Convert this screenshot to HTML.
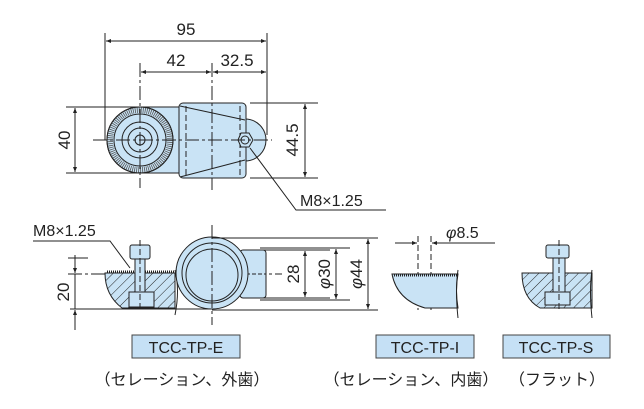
<!DOCTYPE html>
<html><head><meta charset="utf-8"><style>
html,body{margin:0;padding:0;background:#fff;}
svg{display:block;font-family:"Liberation Sans","Noto Sans CJK JP",sans-serif;}
</style></head><body>
<svg width="644" height="409" viewBox="0 0 644 409" xmlns="http://www.w3.org/2000/svg">
<defs>
<pattern id="h" width="7" height="7" patternUnits="userSpaceOnUse" patternTransform="rotate(45)">
<rect width="7" height="7" fill="#c9e3f5"/><line x1="0" y1="0" x2="0" y2="7" stroke="#222" stroke-width="1"/></pattern>
<marker id="a" viewBox="0 0 10 10" refX="10" refY="5" markerWidth="8" markerHeight="5" orient="auto-start-reverse"><path d="M0,1 L10,5 L0,9z" fill="#222"/></marker>
</defs>
<g stroke="#222" fill="none" stroke-width="1">
<line x1="105" y1="33" x2="105" y2="140"/><line x1="267" y1="33" x2="267" y2="135"/>
<line x1="106" y1="41" x2="266" y2="41" marker-start="url(#a)" marker-end="url(#a)"/>
<line x1="141" y1="72" x2="211" y2="72" marker-start="url(#a)" marker-end="url(#a)"/>
<line x1="213" y1="72" x2="266" y2="72" marker-start="url(#a)" marker-end="url(#a)"/>
<path d="M140,107 L182,107 L182,173 L140,173 Z" fill="#c9e3f5" stroke="none"/>
<line x1="140" y1="107" x2="182" y2="107"/><line x1="140" y1="173" x2="182" y2="173"/>
<circle cx="140" cy="140" r="33" fill="#c9e3f5"/>
<circle cx="140" cy="140" r="30" stroke="#555" stroke-width="6" stroke-dasharray="0.8 1.2"/>
<circle cx="140" cy="140" r="33"/>
<circle cx="140" cy="140" r="26"/>
<circle cx="140" cy="140" r="18"/>
<circle cx="140" cy="140" r="12"/>
<circle cx="140" cy="140" r="5"/>
<circle cx="245" cy="140" r="21" fill="#c9e3f5"/>
<rect x="179" y="103" width="67" height="75" rx="4" fill="#c9e3f5"/>
<path d="M180,106 L245,120 M180,177 L245,160" />
<line x1="186" y1="106" x2="186" y2="177" stroke-dasharray="6 3"/>
<line x1="240" y1="106" x2="240" y2="177" stroke-dasharray="6 3"/>
<polygon points="238,140 241,133 249,133 253,140 249,147 241,147" fill="#c9e3f5"/>
<circle cx="245" cy="140" r="4"/>
<line x1="93" y1="140" x2="272" y2="140" stroke-dasharray="14 3 3 3"/>
<line x1="140" y1="63" x2="140" y2="188" stroke-dasharray="14 3 3 3"/>
<line x1="212" y1="63" x2="212" y2="190" stroke-dasharray="14 3 3 3"/>
<line x1="66" y1="107" x2="140" y2="107"/><line x1="66" y1="173" x2="140" y2="173"/>
<line x1="75" y1="108" x2="75" y2="172" marker-start="url(#a)" marker-end="url(#a)"/>
<line x1="250" y1="103" x2="318" y2="103"/><line x1="250" y1="178" x2="318" y2="178"/>
<line x1="305" y1="104" x2="305" y2="177" marker-start="url(#a)" marker-end="url(#a)"/>
<polyline points="250,148 296,210 386,210"/>
<line x1="68" y1="274" x2="282" y2="274" stroke-dasharray="14 3 3 3"/>
<path d="M105,273 L175,273 L175,308 L122,308 Q105,295 105,273 Z" fill="url(#h)"/>
<line x1="107" y1="272" x2="175" y2="272" stroke-width="3" stroke-dasharray="1 1"/>
<path d="M175,270 Q180,290 175,315"/>
<rect x="135" y="258" width="10" height="35" fill="#c9e3f5"/>
<rect x="129" y="292" width="25" height="15" fill="#c9e3f5"/>
<rect x="130" y="245" width="20" height="14" rx="2" fill="#c9e3f5"/>
<line x1="140" y1="240" x2="140" y2="310" stroke-dasharray="6 3"/>
<line x1="70" y1="309" x2="212" y2="309"/>
<line x1="68" y1="258" x2="88" y2="258"/>
<line x1="75" y1="255" x2="75" y2="273" marker-end="url(#a)"/>
<line x1="75" y1="330" x2="75" y2="310" marker-end="url(#a)"/>
<line x1="75" y1="274" x2="75" y2="309"/>
<rect x="240" y="250" width="26" height="48" rx="3" fill="#c9e3f5"/>
<line x1="240" y1="274" x2="266" y2="274" stroke-dasharray="4 2"/>
<circle cx="212" cy="273" r="36" fill="#c9e3f5"/>
<circle cx="212" cy="273" r="30"/>
<circle cx="212" cy="275" r="26"/>
<line x1="212" y1="225" x2="212" y2="325" stroke-dasharray="14 3 3 3"/>
<line x1="212" y1="238" x2="378" y2="238"/><line x1="212" y1="310" x2="378" y2="310"/>
<line x1="250" y1="250" x2="330" y2="250"/><line x1="250" y1="298" x2="330" y2="298"/>
<line x1="260" y1="248" x2="350" y2="248"/><line x1="260" y1="300" x2="350" y2="300"/>
<line x1="305" y1="251" x2="305" y2="297" marker-start="url(#a)" marker-end="url(#a)"/>
<line x1="336" y1="249" x2="336" y2="299" marker-start="url(#a)" marker-end="url(#a)"/>
<line x1="368" y1="239" x2="368" y2="309" marker-start="url(#a)" marker-end="url(#a)"/>
<polyline points="33,241 110,241 130,268"/>
<line x1="395" y1="243" x2="417" y2="243" marker-end="url(#a)"/>
<line x1="495" y1="243" x2="432" y2="243" marker-end="url(#a)"/>
<line x1="418" y1="236" x2="418" y2="310" stroke-dasharray="6 3"/>
<line x1="431" y1="236" x2="431" y2="310" stroke-dasharray="6 3"/>
<path d="M392,274 L458,274 Q455,290 458,308 L425,308 Q397,300 392,274 Z" fill="#c9e3f5"/>
<line x1="394" y1="275" x2="458" y2="275" stroke-width="3" stroke-dasharray="1 1"/>
<path d="M458,270 Q455,290 458,318"/>
<path d="M522,273 L592,273 L592,308 L555,308 L540,308 Q522,298 522,273 Z" fill="url(#h)"/>
<path d="M592,270 Q589,290 592,318"/>
<rect x="553" y="258" width="12" height="35" fill="#c9e3f5"/>
<rect x="545" y="292" width="25" height="13" fill="#c9e3f5"/>
<rect x="546" y="245" width="23" height="13" rx="2" fill="#c9e3f5"/>
<line x1="559" y1="240" x2="559" y2="312" stroke-dasharray="6 3"/>
<rect x="132" y="335" width="108" height="23" fill="#c5e0f5" stroke="#444"/>
<rect x="376" y="335" width="98" height="23" fill="#c5e0f5" stroke="#444"/>
<rect x="503" y="335" width="107" height="23" fill="#c5e0f5" stroke="#444"/>
</g>
<g fill="#222" font-size="17">
<text x="186" y="35" text-anchor="middle">95</text>
<text x="176" y="66" text-anchor="middle">42</text>
<text x="237" y="66" text-anchor="middle">32.5</text>
<text transform="translate(70,140) rotate(-90)" text-anchor="middle">40</text>
<text transform="translate(298,140) rotate(-90)" text-anchor="middle">44.5</text>
<text x="300" y="206" font-size="16">M8×1.25</text>
<text x="33" y="236" font-size="16">M8×1.25</text>
<text transform="translate(69,292) rotate(-90)" text-anchor="middle">20</text>
<text transform="translate(299,274) rotate(-90)" text-anchor="middle">28</text>
<text transform="translate(330,274) rotate(-90)" text-anchor="middle"><tspan font-style="italic">φ</tspan>30</text>
<text transform="translate(362,274) rotate(-90)" text-anchor="middle"><tspan font-style="italic">φ</tspan>44</text>
<text x="446" y="238" font-size="16"><tspan font-style="italic">φ</tspan>8.5</text>
<text x="186" y="353" text-anchor="middle" font-size="16">TCC-TP-E</text>
<text x="425" y="353" text-anchor="middle" font-size="16">TCC-TP-I</text>
<text x="556" y="353" text-anchor="middle" font-size="16">TCC-TP-S</text>
<text x="182" y="385" text-anchor="middle" font-size="16">（セレーション、外歯）</text>
<text x="411" y="385" text-anchor="middle" font-size="16">（セレーション、内歯）</text>
<text x="557" y="385" text-anchor="middle" font-size="16">（フラット）</text>
</g>
</svg>
</body></html>
